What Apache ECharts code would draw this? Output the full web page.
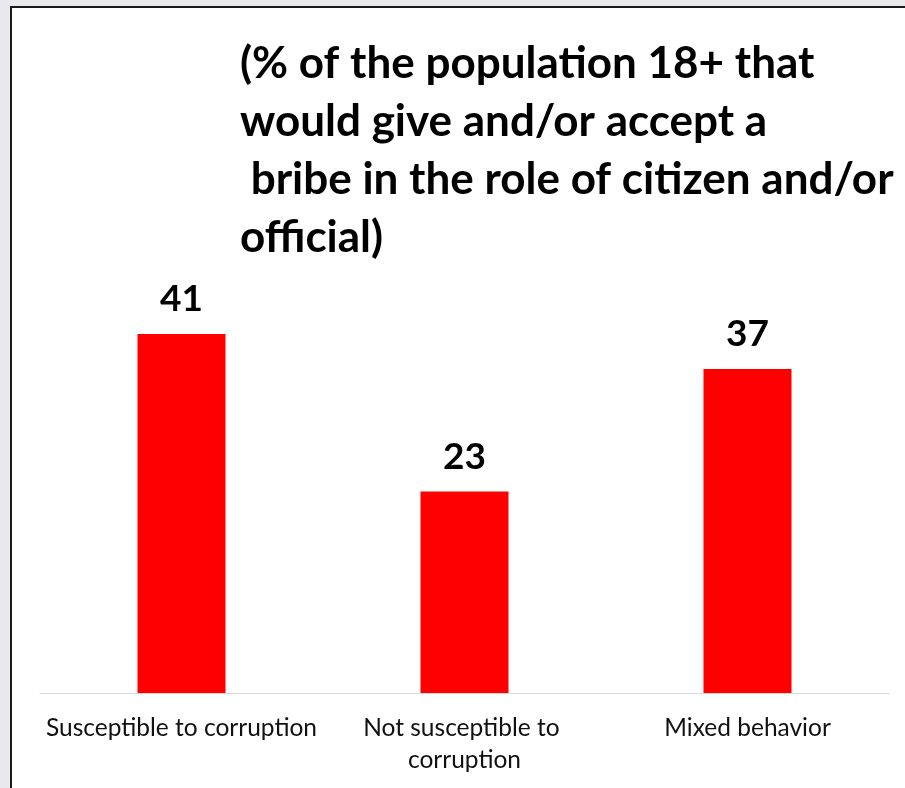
<!DOCTYPE html>
<html>
<head>
<meta charset="utf-8">
<script src="https://cdn.jsdelivr.net/npm/echarts@6/dist/echarts.min.js"></script>
<style>
  html, body { margin: 0; padding: 0; background: #e9e9ed; }
  #chart { width: 905px; height: 788px; }
</style>
</head>
<body>
<div id="chart"></div>
<script>
// data
const categories = ['Susceptible to corruption', 'Not susceptible to corruption', 'Mixed behavior']
const values = [41, 23, 37]
const titleLines = [
  '(% of the population 18+ that',
  'would give and/or accept a',
  ' bribe in the role of citizen and/or',
  'official)'
]

const chart = echarts.init(document.getElementById('chart'))

const option = {
  backgroundColor: '#e9e9ed',
  animation: false,
  graphic: [
    {
      type: 'rect',
      z: -1,
      shape: { x: 11, y: 7, width: 920, height: 800 },
      style: { fill: '#ffffff', stroke: '#1a1a1a', lineWidth: 2 }
    }
  ],
  title: {
    text: titleLines.join('\n'),
    left: 240,
    top: 35,
    padding: 0,
    textStyle: {
      fontFamily: 'Lato',
      fontWeight: 'bold',
      fontSize: 44,
      lineHeight: 58,
      color: '#000'
    }
  },
  grid: {
    left: 40,
    right: 16,
    top: 299,
    bottom: 95
  },
  xAxis: {
    type: 'category',
    data: categories,
    axisTick: { show: false },
    axisLine: { lineStyle: { color: '#d9d9d9', width: 1 } },
    axisLabel: {
      interval: 0,
      margin: 19,
      width: 282,
      overflow: 'break',
      fontFamily: 'Lato',
      fontSize: 24.5,
      lineHeight: 32,
      color: '#111'
    }
  },
  yAxis: {
    type: 'value',
    min: 0,
    max: 45,
    show: false,
    splitLine: { show: false }
  },
  series: [
    {
      type: 'bar',
      data: values,
      barWidth: 88,
      itemStyle: { color: '#ff0000' },
      label: {
        show: true,
        position: 'top',
        distance: 16,
        fontFamily: 'Lato',
        fontWeight: 'bold',
        fontSize: 37,
        color: '#000'
      }
    }
  ]
}

chart.setOption(option)
</script>
</body>
</html>
